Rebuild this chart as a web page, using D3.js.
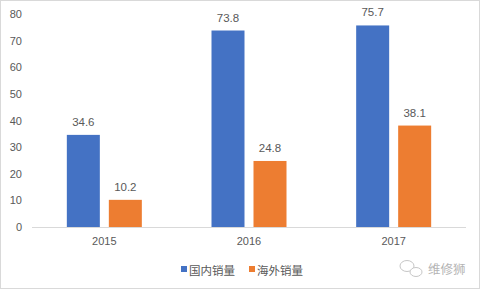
<!DOCTYPE html>
<html>
<head>
<meta charset="utf-8">
<script src="https://cdn.jsdelivr.net/npm/d3@7"></script>
<style>
  html, body { margin: 0; padding: 0; background: #fff; }
  svg text { font-family: "Liberation Sans", "Noto Sans CJK SC", sans-serif; fill: #595959; }
</style>
</head>
<body>
<div id="chart"></div>
<script>
const years = ["2015", "2016", "2017"];
const seriesNames = ["国内销量", "海外销量"];
const domestic = [34.6, 73.8, 75.7];
const overseas = [10.2, 24.8, 38.1];
const yTicks = [0, 10, 20, 30, 40, 50, 60, 70, 80];
const colors = ["#4472C4", "#ED7D31"];

const width = 480, height = 289;
const svg = d3.select("#chart").append("svg")
  .attr("width", width).attr("height", height);

// 外框
svg.append("rect")
  .attr("x", 0.5).attr("y", 0.5)
  .attr("width", width - 1).attr("height", height - 1)
  .attr("fill", "#fff").attr("stroke", "#d9d9d9");

const x = d3.scaleBand().domain(years).range([32, 466]).paddingInner(0).paddingOuter(0);
const y = d3.scaleLinear().domain([0, 80]).range([227, 14]);
const barW = 33, gap = 9;
const offset = (x.bandwidth() - (barW * 2 + gap)) / 2;

// y 轴刻度
svg.append("g")
  .selectAll("text").data(yTicks).join("text")
  .attr("x", 22).attr("y", d => y(d))
  .attr("text-anchor", "end").attr("dominant-baseline", "central")
  .style("font-size", "11px")
  .text(d => d);

// x 轴
svg.append("line")
  .attr("x1", 32).attr("x2", 466)
  .attr("y1", y(0) + 0.5).attr("y2", y(0) + 0.5)
  .attr("stroke", "#d9d9d9");

svg.append("g")
  .selectAll("text").data(years).join("text")
  .attr("x", d => x(d) + x.bandwidth() / 2).attr("y", 241)
  .attr("text-anchor", "middle").attr("dominant-baseline", "central")
  .style("font-size", "11px")
  .text(d => d);

// 柱子
const series = [domestic, overseas];
series.forEach((vals, si) => {
  const g = svg.append("g");
  g.selectAll("rect").data(vals).join("rect")
    .attr("x", (d, i) => x(years[i]) + offset + si * (barW + gap))
    .attr("y", d => y(d))
    .attr("width", barW)
    .attr("height", d => y(0) - y(d))
    .attr("fill", colors[si]);
  g.selectAll("text").data(vals).join("text")
    .attr("x", (d, i) => x(years[i]) + offset + si * (barW + gap) + barW / 2)
    .attr("y", d => y(d) - 13)
    .attr("text-anchor", "middle").attr("dominant-baseline", "central")
    .style("font-size", "11.5px")
    .text(d => d.toFixed(1));
});

// 图例
const legendX = [181, 249];
seriesNames.forEach((name, i) => {
  svg.append("rect")
    .attr("x", legendX[i]).attr("y", 266)
    .attr("width", 6).attr("height", 6)
    .attr("fill", colors[i]);
  svg.append("text")
    .attr("x", legendX[i] + 8).attr("y", 269.5)
    .attr("dominant-baseline", "central")
    .style("font-family", "Noto Sans CJK SC")
    .style("font-size", "11.5px")
    .text(name);
});

// 水印
const wm = svg.append("g").attr("opacity", 0.55);
wm.append("ellipse").attr("cx", 407).attr("cy", 266).attr("rx", 7).attr("ry", 5.5)
  .attr("fill", "none").attr("stroke", "#999").attr("stroke-width", 1);
wm.append("ellipse").attr("cx", 416).attr("cy", 272).attr("rx", 6).attr("ry", 4.5)
  .attr("fill", "#fff").attr("stroke", "#999").attr("stroke-width", 1);
wm.append("text")
  .attr("x", 428).attr("y", 268)
  .attr("dominant-baseline", "central")
  .style("font-family", "Noto Sans CJK SC")
  .style("font-size", "12.5px")
  .style("fill", "#777")
  .text("维修狮");
</script>
</body>
</html>
